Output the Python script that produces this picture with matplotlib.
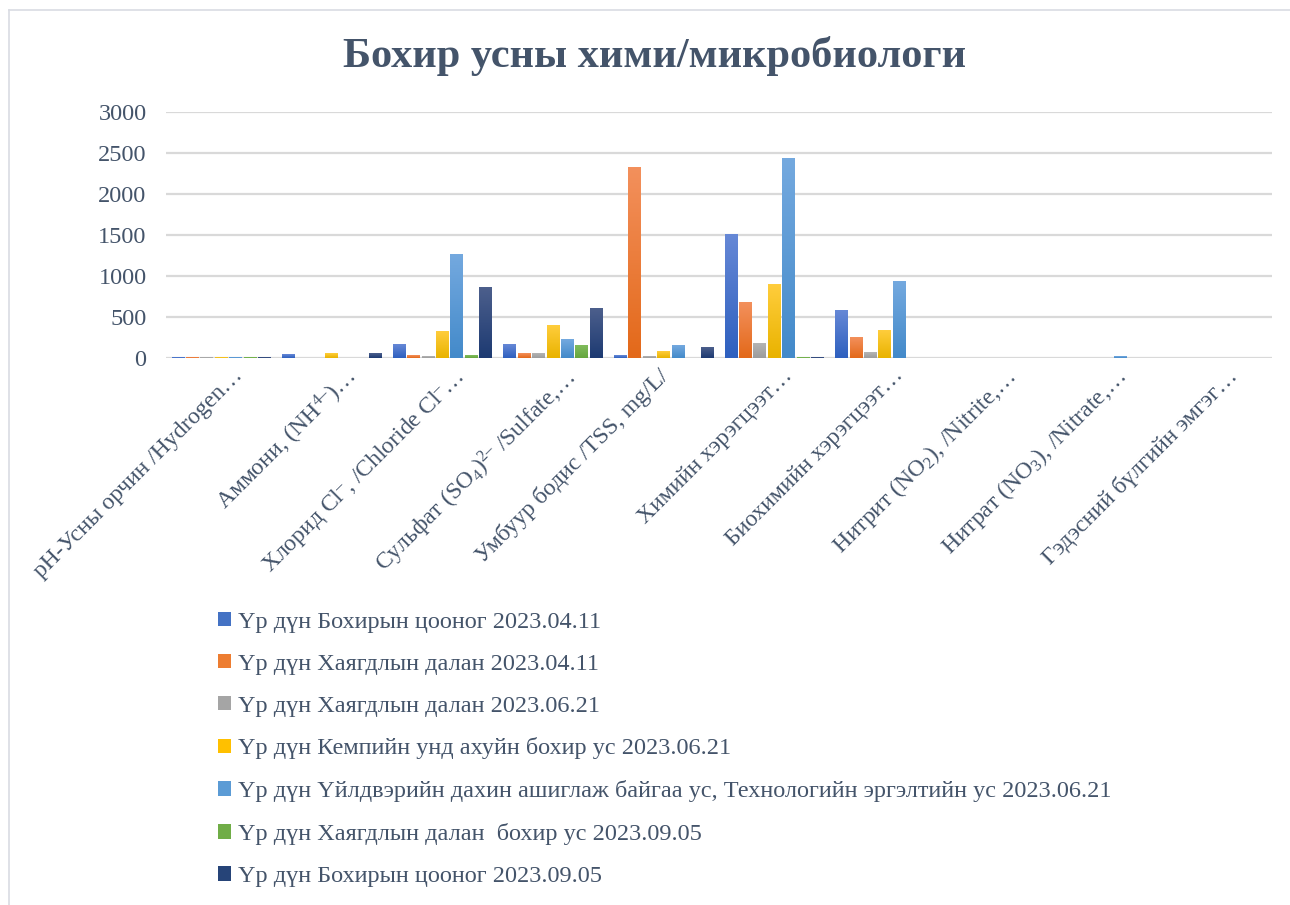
import numpy as np
import matplotlib
matplotlib.use("Agg")
import matplotlib.pyplot as plt
from matplotlib.colors import LinearSegmentedColormap
from matplotlib.lines import Line2D
from matplotlib.patches import Patch
import matplotlib.transforms as mtransforms

plt.rcParams['font.family'] = ['Liberation Serif', 'DejaVu Serif']
plt.rcParams['mathtext.fontset'] = 'custom'
plt.rcParams['mathtext.rm'] = 'Liberation Serif'
plt.rcParams['mathtext.it'] = 'Liberation Serif:italic'
plt.rcParams['mathtext.bf'] = 'Liberation Serif:bold'
plt.rcParams['mathtext.default'] = 'rm'

categories = [
    "pH-Усны орчин /Hydrogen…",
    "Аммони, (NH$^{4–}$)…",
    "Хлорид Cl$^{–}$, /Chloride Cl$^{–}$…",
    "Сульфат (SO$_{4}$)$^{2–}$ /Sulfate,…",
    "Умбуур бодис /TSS, mg/L/",
    "Химийн хэрэгцээт…",
    "Биохимийн хэрэгцээт…",
    "Нитрит (NO$_{2}$), /Nitrite,…",
    "Нитрат (NO$_{3}$), /Nitrate,…",
    "Гэдэсний бүлгийн эмгэг…",
]

series_names = [
    "Үр дүн Бохирын цооног 2023.04.11",
    "Үр дүн Хаягдлын далан 2023.04.11",
    "Үр дүн Хаягдлын далан 2023.06.21",
    "Үр дүн Кемпийн унд ахуйн бохир ус 2023.06.21",
    "Үр дүн Үйлдвэрийн дахин ашиглаж байгаа ус, Технологийн эргэлтийн ус 2023.06.21",
    "Үр дүн Хаягдлын далан  бохир ус 2023.09.05",
    "Үр дүн Бохирын цооног 2023.09.05",
]

s1 = [7.5, 45, 167, 167, 33, 1509, 582, 0.5, 2, 0]
s2 = [7.5, 0, 33, 57, 2326, 680, 252, 0.3, 1, 0]
s3 = [7.5, 0, 20, 57, 20, 179, 70, 0.2, 1, 0]
s4 = [7.5, 55, 325, 399, 82, 899, 338, 0.3, 2, 0]
s5 = [7.5, 0, 1265, 228, 155, 2436, 936, 0.5, 20, 0]
s6 = [7.5, 0, 33, 155, 0, 8, 0, 0, 0, 0]
s7 = [7.5, 55, 862, 606, 130, 8, 0, 0, 0, 0]
series_values = [s1, s2, s3, s4, s5, s6, s7]

yticks = [0, 500, 1000, 1500, 2000, 2500, 3000]

top_colors = ["#6688D6", "#F3905C", "#B4B4B4", "#FFCD3C", "#74A9DF", "#80BC5C", "#4C5F8C"]
bot_colors = ["#2E60BF", "#E3691A", "#9C9C9C", "#E9B300", "#438ACA", "#66A63E", "#1D3A72"]
legend_colors = ["#4472C4", "#ED7D31", "#A5A5A5", "#FFC000", "#5B9BD5", "#70AD47", "#264478"]

text_color = "#44546A"
grid_color = "#D9D9D9"

fig = plt.figure(figsize=(12.9, 9.05), dpi=100)
ax = fig.add_axes([166/1290, 1-358/905, (1272-166)/1290, (358-112)/905])

n = len(series_values)
x = np.arange(len(categories))
step = 0.1305
width = 0.117

for i, vals in enumerate(series_values):
    offs = (i - (n-1)/2) * step
    bars = ax.bar(x + offs, vals, width, color=legend_colors[i], zorder=3, linewidth=0)
    cmap = LinearSegmentedColormap.from_list(f"g{i}", [bot_colors[i], top_colors[i]])
    grad = np.linspace(0, 1, 64).reshape(-1, 1)
    for p in bars.patches:
        h = p.get_height()
        if h <= 0:
            continue
        x0 = p.get_x()
        w = p.get_width()
        im = ax.imshow(grad, cmap=cmap, origin='lower', aspect='auto',
                       extent=[x0, x0 + w, 0, h], zorder=4, interpolation='bilinear')
        im.set_clip_path(p)

ax.set_xlim(-0.5, len(categories) - 0.5)
ax.set_ylim(0, 3000)
ax.set_yticks(yticks)
ax.set_yticklabels([str(v) for v in yticks], fontsize=17.5, color=text_color)
ax.yaxis.grid(True, color=grid_color, linewidth=1.6, zorder=0)
ax.set_axisbelow(True)
for sp in ax.spines.values():
    sp.set_visible(False)
ax.tick_params(axis='both', length=0)
ax.tick_params(axis='y', pad=14)

ax.set_xticks(x)
ax.set_xticklabels(categories, rotation=45, ha='right', rotation_mode='anchor',
                   fontsize=17, color=text_color)
ax.tick_params(axis='x', pad=5)
label_shift_px = [11, 11, 10, 10, -6, 8, 8, 8, 8, 10]
for lbl, sh in zip(ax.get_xticklabels(), label_shift_px):
    offset = mtransforms.ScaledTranslation(sh/100, 0, fig.dpi_scale_trans)
    lbl.set_transform(lbl.get_transform() + offset)

fig.text(655/1290, 1-56/905, "Бохир усны хими/микробиологи", ha='center', va='center',
         fontsize=30.5, fontweight='bold', color=text_color)

handles = [Patch(facecolor=c, edgecolor='none') for c in legend_colors]
leg = fig.legend(handles, series_names, loc='upper left', bbox_to_anchor=(208/1290, 1-602/905),
                 frameon=False, fontsize=17.5, labelcolor=text_color, handlelength=0.55,
                 handleheight=0.55, handletextpad=0.3, labelspacing=0.86, borderaxespad=0)

# chart-area border
fig.add_artist(Line2D([8.5/1290, 1], [1-10/905, 1-10/905], transform=fig.transFigure,
                      color="#D9DCE3", linewidth=1.2))
fig.add_artist(Line2D([8.5/1290, 8.5/1290], [0, 1-10/905], transform=fig.transFigure,
                      color="#D9DCE3", linewidth=1.2))

fig.savefig("out.png", dpi=100, facecolor='white')
